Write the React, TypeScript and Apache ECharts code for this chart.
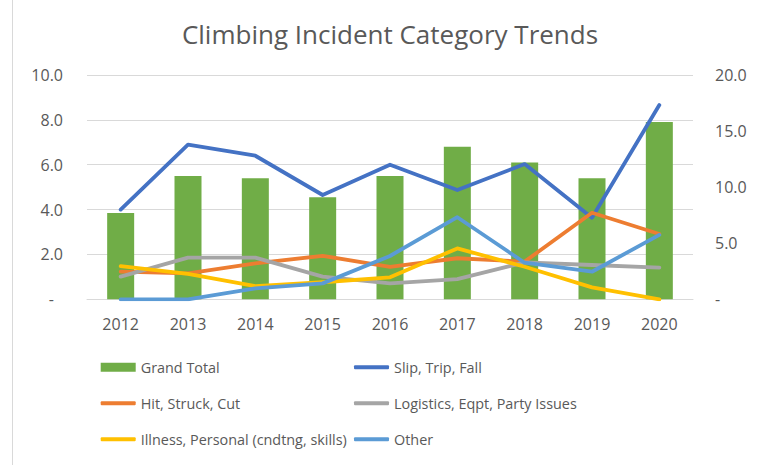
import React, { useEffect, useRef } from "react";
import * as echarts from "echarts";

const years = ["2012", "2013", "2014", "2015", "2016", "2017", "2018", "2019", "2020"];
const grandTotal = [7.7, 11.0, 10.8, 9.1, 11.0, 13.6, 12.2, 10.8, 15.8];
const slipTripFall = [4.0, 6.9, 6.4, 4.65, 6.0, 4.87, 6.03, 3.64, 8.66];
const hitStruckCut = [1.23, 1.16, 1.6, 1.94, 1.45, 1.83, 1.68, 3.86, 2.91];
const logistics = [1.01, 1.86, 1.86, 1.01, 0.71, 0.9, 1.65, 1.53, 1.41];
const illness = [1.48, 1.13, 0.59, 0.76, 0.98, 2.27, 1.45, 0.53, 0.0];
const other = [0.0, 0.0, 0.49, 0.71, 1.93, 3.66, 1.63, 1.23, 2.87];

const FONT = "Open Sans";
const TXT = "#595959";
const GRIDC = "#D9D9D9";

export default function App() {
  const ref = useRef<HTMLDivElement>(null);
  useEffect(() => {
    document.body.style.margin = "0";
    const chart = echarts.init(ref.current!, null, { renderer: "svg" });
    const lineSeries = (name: string, data: number[], color: string) => ({
      name,
      type: "line",
      data,
      yAxisIndex: 0,
      symbol: "none",
      showSymbol: false,
      lineStyle: { color, width: 3.8, cap: "round", join: "round" },
      itemStyle: { color },
    });
    const legendAt = (name: string, x: number, rowY: number, isBar: boolean) => ({
      orient: "horizontal",
      left: x - 5,
      top: rowY - 14,
      itemWidth: 35,
      itemHeight: isBar ? 9 : 4,
      icon: isBar ? "rect" : "roundRect",
      textStyle: { color: TXT, fontSize: 14.4, fontFamily: FONT, lineHeight: 18 },
      data: [name],
    });
    const r1 = 367.3, r2 = 403.3, r3 = 439.3;
    chart.setOption({
      animation: false,
      textStyle: { fontFamily: FONT },
      graphic: [
        {
          type: "line",
          shape: { x1: 12.5, y1: 0, x2: 12.5, y2: 465 },
          style: { stroke: GRIDC, lineWidth: 1 },
        },
        {
          type: "text",
          x: 390,
          y: 33.5,
          style: {
            text: "Climbing Incident Category Trends",
            fontFamily: FONT,
            fontSize: 26,
            fill: TXT,
            align: "center",
            verticalAlign: "middle",
          },
        },
      ],
      grid: { left: 87, right: 64, top: 75, bottom: 165.7, containLabel: false },
      xAxis: {
        type: "category",
        data: years,
        axisLine: { show: true, lineStyle: { color: GRIDC, width: 1 } },
        axisTick: { show: false },
        axisLabel: { color: TXT, fontSize: 16, fontFamily: FONT, margin: 17 },
        splitLine: { show: false },
      },
      yAxis: [
        {
          type: "value",
          min: 0,
          max: 10,
          interval: 2,
          axisLine: { show: false },
          axisTick: { show: false },
          splitLine: { show: true, lineStyle: { color: GRIDC, width: 1 } },
          axisLabel: {
            color: TXT,
            fontSize: 16,
            fontFamily: FONT,
            margin: 24,
            formatter: (v: number) => (v === 0 ? "{d|-}" : v.toFixed(1)),
            rich: { d: { color: TXT, fontSize: 16, fontFamily: FONT, padding: [0, 9, 0, 0] } },
          },
        },
        {
          type: "value",
          min: 0,
          max: 20,
          interval: 5,
          position: "right",
          axisLine: { show: false },
          axisTick: { show: false },
          splitLine: { show: false },
          axisLabel: {
            color: TXT,
            fontSize: 16,
            fontFamily: FONT,
            margin: 22,
            formatter: (v: number) => (v === 0 ? "-" : v.toFixed(1)),
          },
        },
      ],
      legend: [
        legendAt("Grand Total", 100.7, r1, true),
        legendAt("Hit, Struck, Cut", 100.7, r2, false),
        legendAt("Illness, Personal (cndtng, skills)", 100.7, r3, false),
        legendAt("Slip, Trip, Fall", 354, r1, false),
        legendAt("Logistics, Eqpt, Party Issues", 354, r2, false),
        legendAt("Other", 354, r3, false),
      ],
      series: [
        {
          name: "Grand Total",
          type: "bar",
          data: grandTotal,
          yAxisIndex: 1,
          barWidth: 27,
          itemStyle: { color: "#70AD47" },
        },
        lineSeries("Slip, Trip, Fall", slipTripFall, "#4472C4"),
        lineSeries("Hit, Struck, Cut", hitStruckCut, "#ED7D31"),
        lineSeries("Logistics, Eqpt, Party Issues", logistics, "#A5A5A5"),
        lineSeries("Illness, Personal (cndtng, skills)", illness, "#FFC000"),
        lineSeries("Other", other, "#5B9BD5"),
      ],
    });
    return () => chart.dispose();
  }, []);
  return <div ref={ref} style={{ width: 757, height: 465 }} />;
}
